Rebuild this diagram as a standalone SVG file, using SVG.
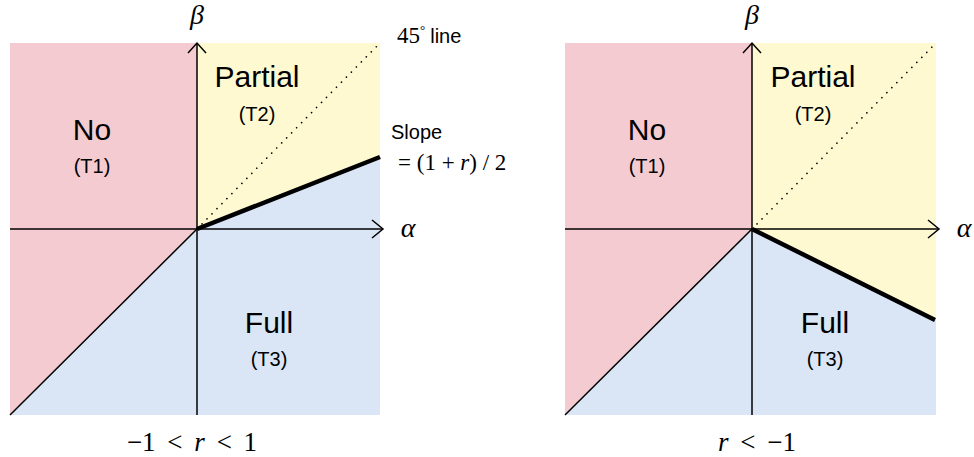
<svg xmlns="http://www.w3.org/2000/svg" width="974" height="457" viewBox="0 0 974 457">
<style>
.pink{fill:#F4CBD1}
.yellow{fill:#FEF9D0}
.blue{fill:#DAE6F6}
.axis{stroke:#000;stroke-width:1.5;fill:none}
.chev{stroke:#000;stroke-width:1.5;fill:none;stroke-linejoin:miter}
.bound{stroke:#000;stroke-width:1.5;fill:none}
.thick{stroke:#000;stroke-width:4.5;fill:none;stroke-linecap:butt}
.dot{stroke:#000;stroke-width:1.6;fill:none;stroke-dasharray:0.1 7;stroke-linecap:round}
.big{font-family:"Liberation Sans",Arial,sans-serif;font-size:30px;text-anchor:middle;fill:#000}
.small{font-family:"Liberation Sans",Arial,sans-serif;font-size:20px;text-anchor:middle;fill:#000}
.sans{font-family:"Liberation Sans",Arial,sans-serif;font-size:20px;fill:#000}
.math{font-family:"Liberation Serif","Times New Roman",serif;fill:#000}
</style>
<g id="left-panel">
  <g id="left-regions">
    <polygon class="pink" points="10,43 197,43 197,229 10,415"/>
    <polygon class="yellow" points="197,43 380,43 380,157 197,229"/>
    <polygon class="blue" points="197,229 380,157 380,415 10,415"/>
  </g>
  <g id="left-connectors">
    <line class="bound" x1="10" y1="415" x2="197" y2="229"/>
    <line class="dot" x1="197" y1="229" x2="380" y2="43"/>
    <line class="thick" x1="197" y1="229" x2="380" y2="157"/>
    <line class="axis" x1="10" y1="229" x2="383" y2="229"/>
    <polyline class="chev" points="372,220 383,229 372,238"/>
    <line class="axis" x1="197" y1="415" x2="197" y2="43"/>
    <polyline class="chev" points="188,53 197,43 206,53"/>
  </g>
  <g id="left-no"><text class="big" x="92" y="140">No</text><text class="small" x="92" y="173">(T1)</text></g>
  <g id="left-partial"><text class="big" x="257" y="87">Partial</text><text class="small" x="257" y="121">(T2)</text></g>
  <g id="left-full"><text class="big" x="269" y="333">Full</text><text class="small" x="269" y="366">(T3)</text></g>
  <text class="math" x="197" y="24" font-size="28" font-style="italic" text-anchor="middle">β</text>
  <text class="math" x="408" y="237" font-size="28" font-style="italic" text-anchor="middle">α</text>
  <text x="397" y="43"><tspan class="math" font-size="23">45</tspan><tspan class="math" font-size="13" dy="-9">°</tspan><tspan class="sans" dy="9" dx="5">line</tspan></text>
  <text class="sans" x="391" y="139">Slope</text>
  <text class="math" x="398" y="170" font-size="23">= (1 + <tspan font-style="italic">r</tspan>) / 2</text>
  <text class="math" x="192" y="451" font-size="27" word-spacing="5" text-anchor="middle">−1 &lt; <tspan font-style="italic">r</tspan> &lt; 1</text>
</g>
<g id="right-panel">
  <g id="right-regions">
    <polygon class="pink" points="565,43 752,43 752,229 565,415"/>
    <polygon class="yellow" points="752,43 936,43 936,320 752,229"/>
    <polygon class="blue" points="752,229 936,320 936,415 565,415"/>
  </g>
  <g id="right-connectors">
    <line class="bound" x1="565" y1="415" x2="752" y2="229"/>
    <line class="dot" x1="752" y1="229" x2="936" y2="43"/>
    <line class="thick" x1="752" y1="229" x2="935" y2="320"/>
    <line class="axis" x1="565" y1="229" x2="939" y2="229"/>
    <polyline class="chev" points="928,220 939,229 928,238"/>
    <line class="axis" x1="752" y1="415" x2="752" y2="43"/>
    <polyline class="chev" points="743,53 752,43 761,53"/>
  </g>
  <g id="right-no"><text class="big" x="647" y="140">No</text><text class="small" x="647" y="173">(T1)</text></g>
  <g id="right-partial"><text class="big" x="813" y="87">Partial</text><text class="small" x="813" y="121">(T2)</text></g>
  <g id="right-full"><text class="big" x="825" y="333">Full</text><text class="small" x="825" y="366">(T3)</text></g>
  <text class="math" x="752" y="24" font-size="28" font-style="italic" text-anchor="middle">β</text>
  <text class="math" x="964" y="237" font-size="28" font-style="italic" text-anchor="middle">α</text>
  <text class="math" x="757" y="451" font-size="27" word-spacing="5" text-anchor="middle"><tspan font-style="italic">r</tspan> &lt; −1</text>
</g>
</svg>
